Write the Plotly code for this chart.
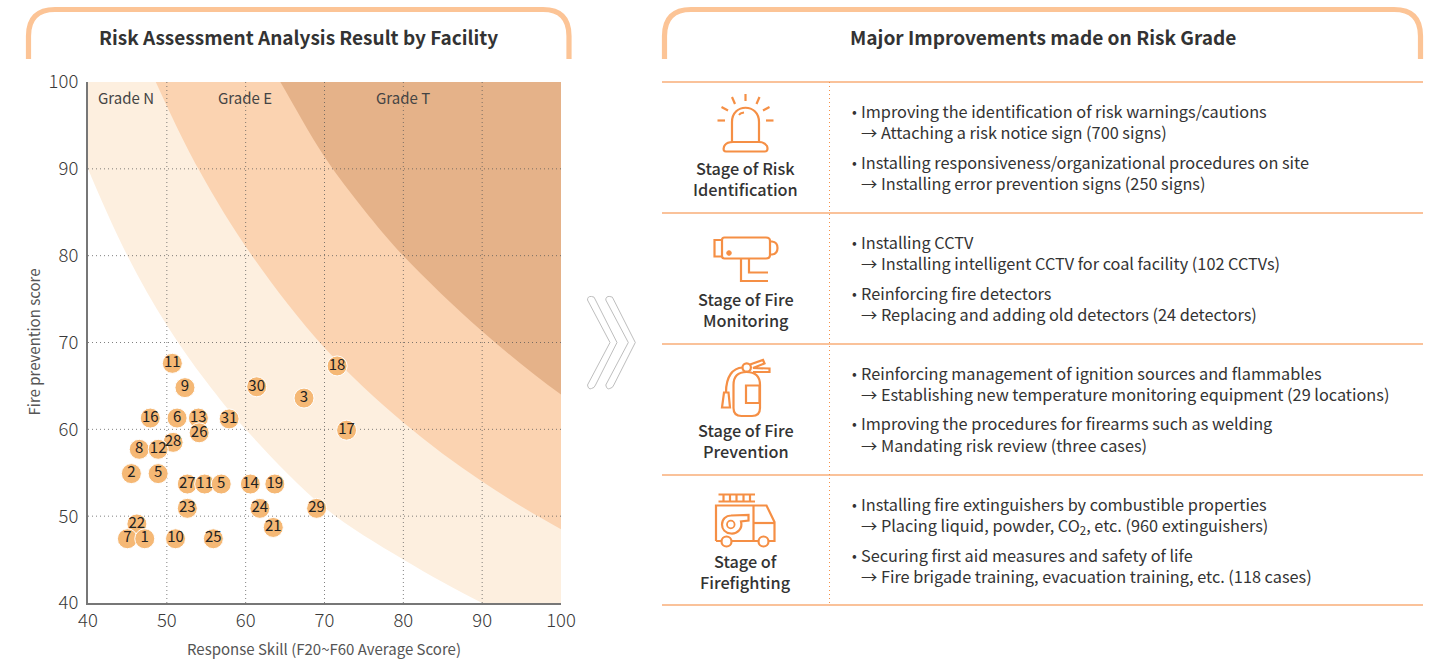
import re

import plotly.graph_objects as go

FONT = "Noto Sans CJK KR"
W, H = 1437, 659

# facility scatter
facility_labels = ["11", "9", "30", "3", "18", "16", "6", "13", "31", "26", "17", "28", "8", "12", "2",
                   "5", "27", "11", "5", "14", "19", "23", "24", "29", "21", "22", "7", "1", "10", "25"]
response_skill = [50.7, 52.3, 61.4, 67.4, 71.6, 47.9, 51.3, 54.0, 57.9, 54.1, 72.8, 50.8, 46.5, 48.9, 45.5,
                  48.9, 52.6, 54.8, 56.9, 60.6, 63.7, 52.6, 61.8, 69.0, 63.5, 46.2, 45.0, 47.2, 51.1, 55.9]
fire_prevention = [67.6, 64.8, 64.9, 63.6, 67.3, 61.3, 61.3, 61.3, 61.2, 59.6, 59.9, 58.5, 57.7, 57.7, 54.9,
                   54.9, 53.7, 53.7, 53.7, 53.7, 53.7, 50.9, 50.9, 50.9, 48.7, 49.1, 47.4, 47.4, 47.4, 47.4]

# grade boundaries (they run on a little past the plot so the ends are clipped)
light_x = [37.5, 40, 45, 50, 55, 60, 70, 80, 90, 97]
light_y = [96, 90, 80, 72, 65.5, 60, 51, 45, 40, 37]
mid_x = [46.5, 48.6, 54, 60.8, 70, 80, 90, 100, 107]
mid_y = [104.5, 100, 90, 80, 69.4, 60.8, 54, 48.5, 45.4]
dark_x = [60, 64.4, 70, 75, 80, 90, 100, 110]
dark_y = [107, 100, 91.4, 85.3, 80, 71.3, 64, 58]

axis_ticks = [40, 50, 60, 70, 80, 90, 100]
grid_ticks = [50, 60, 70, 80, 90]

grade_names = ["Grade N", "Grade E", "Grade T"]
grade_x = [126, 245, 403]

stage_names = ["Stage of Risk<br>Identification", "Stage of Fire<br>Monitoring",
               "Stage of Fire<br>Prevention", "Stage of<br>Firefighting"]
stage_items = [
    ["Improving the identification of risk warnings/cautions", "→ Attaching a risk notice sign (700 signs)",
     "Installing responsiveness/organizational procedures on site", "→ Installing error prevention signs (250 signs)"],
    ["Installing CCTV", "→ Installing intelligent CCTV for coal facility (102 CCTVs)",
     "Reinforcing fire detectors", "→ Replacing and adding old detectors (24 detectors)"],
    ["Reinforcing management of ignition sources and flammables",
     "→ Establishing new temperature monitoring equipment (29 locations)",
     "Improving the procedures for firearms such as welding", "→ Mandating risk review (three cases)"],
    ["Installing fire extinguishers by combustible properties",
     "→ Placing liquid, powder, CO<sub>2</sub>, etc. (960 extinguishers)",
     "Securing first aid measures and safety of life",
     "→ Fire brigade training, evacuation training, etc. (118 cases)"],
]

ORANGE = "#F58F45"
PEACH = "#FCC496"
TEXT = "#333333"

fig = go.Figure()


def band(xs, ys, color):
    # closes the area to the upper right, far outside the axis range
    fig.add_trace(go.Scatter(x=xs + [125, 125, 30], y=ys + [30, 125, 125], mode="lines", fill="toself",
                             fillcolor=color, line=dict(width=0, shape="spline"), hoverinfo="skip"))


band(light_x, light_y, "#FDEFDF")
band(mid_x, mid_y, "#FBD3B1")
band(dark_x, dark_y, "#E5B289")

# grid has to sit on top of the bands, so it is a trace
gx, gy = [], []
for t in grid_ticks:
    gx += [t, t, None, 40, 100, None]
    gy += [40, 100, None, t, t, None]
fig.add_trace(go.Scatter(x=gx, y=gy, mode="lines", hoverinfo="skip",
                         line=dict(color="rgba(85,85,85,0.75)", width=1, dash="1px,3px")))

fig.add_trace(go.Scatter(x=response_skill, y=fire_prevention, mode="markers+text", text=facility_labels,
                         textposition="middle center", textfont=dict(family=FONT, size=15, color="#222222"),
                         marker=dict(size=20, color="#F5B875", line=dict(color="white", width=1))))

shapes = []


def to_paper(path):
    # paths below are written in page pixels
    return re.sub(r"([\d.]+),([\d.]+)", lambda m: f"{float(m[1]) / W:.5f},{1 - float(m[2]) / H:.5f}", path)


def stroke(path, color=ORANGE, width=2.2, fill=None):
    shapes.append(dict(type="path", path=to_paper(path), xref="paper", yref="paper", layer="above",
                       line=dict(color=color, width=width), fillcolor=fill))


def ring(cx, cy, r, **kw):
    k = r * 0.55
    stroke(f"M {cx - r},{cy} C {cx - r},{cy - k} {cx - k},{cy - r} {cx},{cy - r} C {cx + k},{cy - r} {cx + r},{cy - k} "
           f"{cx + r},{cy} C {cx + r},{cy + k} {cx + k},{cy + r} {cx},{cy + r} C {cx - k},{cy + r} {cx - r},{cy + k} "
           f"{cx - r},{cy} Z", **kw)


def label(x, y, text, size=16.3, anchor="left", color=TEXT, weight=400, angle=0):
    fig.add_annotation(x=x / W, y=1 - y / H, xref="paper", yref="paper", text=text, showarrow=False, xanchor=anchor,
                       yanchor="middle", textangle=angle, font=dict(family=FONT, size=size, color=color, weight=weight))


# header brackets
stroke("M 28.5,59 L 28.5,36 Q 28.5,9.5 55,9.5 L 543,9.5 Q 569,9.5 569,36 L 569,59", PEACH, 5.2)
stroke("M 664.5,59 L 664.5,36 Q 664.5,9.5 691,9.5 L 1394,9.5 Q 1420.5,9.5 1420.5,36 L 1420.5,59", PEACH, 5.2)
label(298, 36.5, "Risk Assessment Analysis Result by Facility", 19, "center", TEXT, 700)
label(1042.5, 36.5, "Major Improvements made on Risk Grade", 19.1, "center", TEXT, 700)

# left chart texts
for name, x in zip(grade_names, grade_x):
    label(x, 97, name, 15, "center", "#444444")
label(324, 648, "Response Skill (F20~F60 Average Score)", 15, "center", "#555555")
label(32.5, 342, "Fire prevention score", 15, "center", "#555555", angle=-90)

# double chevron between the panels
for dx in [0, 18.3]:
    x0 = 587.5 + dx
    stroke(f"M {x0},300 L {x0 + 22.5},342.5 L {x0},385 Q {x0 + 1},390 {x0 + 4},388.5 Q {x0 + 7},388 {x0 + 8},385 "
           f"L {x0 + 29.5},342.5 L {x0 + 8},300 Q {x0 + 7},296 {x0 + 4},296.5 Q {x0},296 {x0},300 Z",
           "#BEBEBE", 1)

# table rules
row_top = [82, 213, 344, 475]
for y in row_top + [605]:
    stroke(f"M 662,{y} L 1423,{y}", "#F8AE78", 1.3)
shapes.append(dict(type="line", x0=829.5 / W, x1=829.5 / W, y0=1 - 82 / H, y1=1 - 605 / H, xref="paper", yref="paper",
                   layer="above", line=dict(color=ORANGE, width=1, dash="1px,3px")))

item_offsets = [29, 50, 79.5, 100.5]
for top, stage, items in zip(row_top, stage_names, stage_items):
    first, second = stage.split("<br>")
    label(745.5, top + 85.5, first, 16.3, "center", TEXT, 500)
    label(745.5, top + 106.5, second, 16.3, "center", TEXT, 500)
    for i, (off, item) in enumerate(zip(item_offsets, items)):
        if i % 2 == 0:
            label(850, top + off, "•", 14)
        label(859, top + off, item)

# alarm icon
stroke("M 732,142 L 732,122 C 732,103 759,103 759,122 L 759,142")
stroke("M 726,151.5 C 722,151.5 724,146 725,145 C 727,142 730,142 733,142 L 759,142 C 763,142 765,143 767,146 "
       "C 768,149 767.5,151.5 765,151.5 Z")
stroke("M 739,115 Q 740,113 744,112.5", width=1.8)
stroke("M 745.5,94 L 745.5,101")
stroke("M 732,97 L 735,104")
stroke("M 759.5,97 L 756.5,104")
stroke("M 721.5,107 L 728,110.5")
stroke("M 769.5,107 L 763,110.5")
stroke("M 717.5,120.5 L 725,120.5")
stroke("M 766,120.5 L 773.5,120.5")

# camera icon
stroke("M 722,240 Q 722,237.5 724.5,237.5 L 766,237.5 Q 770,237.5 770,241 L 770,255 Q 770,258.5 766,258.5 "
       "L 724.5,258.5 Q 722,258.5 722,256 Z")
stroke("M 722,240 L 714.5,240 L 714.5,256.5 L 722,256.5")
stroke("M 770,241.5 L 772,241.5 Q 777.5,242 777.5,248 Q 777.5,254 772,254.5 L 770,254.5")
stroke("M 741,258.5 L 741,281 L 768,281")
stroke("M 749,258.5 L 749,272.5 L 768,272.5")
ring(729, 253, 2.5, width=0.5, fill=ORANGE)

# extinguisher icon
stroke("M 733.5,385 C 733.5,376 738,372 746.5,372 C 755,372 760,376 760,385 L 760,408 Q 760,416 752,416 "
       "L 741.5,416 Q 733.5,416 733.5,408 Z")
stroke("M 746,385.5 L 759.5,385.5 L 759.5,403 L 746,403 Z")
ring(746.7, 367.5, 4.2, fill="white")
stroke("M 750,364.5 L 763,360 L 764.5,363.5 L 753,368 L 769.5,368.5 L 769.5,372 L 753,372")
stroke("M 742.5,367.5 C 733,368 726,376 726,392.5")
stroke("M 724,392.5 L 728.5,392.5 L 730,407.5 L 722,407.5 Z")

# fire truck icon
stroke("M 718.5,494.5 L 755,494.5")
stroke("M 718.5,501.5 L 755,501.5")
for x in [723.5, 730, 736.5, 743.5, 750]:
    stroke(f"M {x},494.5 L {x},501.5")
stroke("M 716,541 L 716,505.5 L 766.5,505.5 L 774.5,522 L 774.5,541 L 716,541")
stroke("M 753.5,505.5 L 753.5,541")
stroke("M 753.5,523 L 774.5,523")
stroke("M 731,515.5 L 748.5,515 L 748.5,520.5 L 741,521.5 C 743,529 737,534 731,533.5 C 725,533 722,529 722,524.5 "
       "C 722,519 726,515.5 731,515.5 Z")
ring(730.8, 524.5, 3.8, width=1.8)
ring(726.5, 541.5, 5, fill="white")
ring(763.5, 541.5, 5, fill="white")

axis_style = dict(range=[40, 100], tickvals=axis_ticks, showgrid=False, zeroline=False, showline=True,
                  automargin=False, linecolor="#777777", linewidth=2, ticks="outside",
                  tickcolor="rgba(0,0,0,0)",
                  tickfont=dict(family=FONT, size=18.5, color="#3a3a3a", weight=300))
fig.update_layout(
    width=W, height=H, margin=dict(l=0, r=0, t=0, b=0, autoexpand=False), paper_bgcolor="white", plot_bgcolor="white",
    showlegend=False, shapes=shapes,
    xaxis=dict(domain=[88 / W, 561 / W], anchor="y", ticklen=0, **axis_style),
    yaxis=dict(domain=[1 - 603 / H, 1 - 82 / H], anchor="x", ticklen=4, **axis_style),
)

fig.write_html("out.html", config={"displayModeBar": False}, post_script="document.body.style.margin='0';")
